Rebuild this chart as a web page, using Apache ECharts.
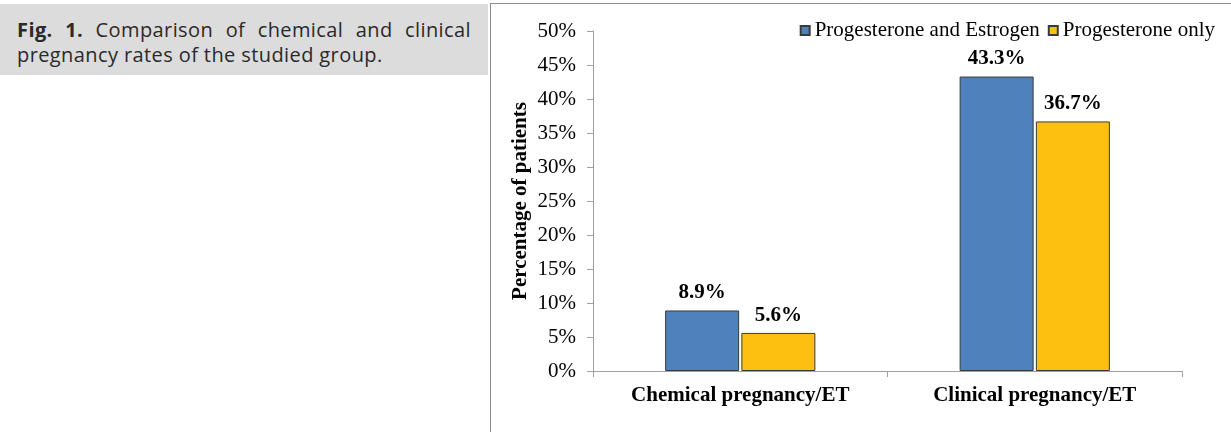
<!DOCTYPE html>
<html>
<head>
<meta charset="utf-8">
<script src="https://cdn.jsdelivr.net/npm/echarts@6/dist/echarts.min.js"></script>
<style>
    html, body { margin: 0; padding: 0; background: #fff; }
    #wrap { position: relative; width: 1231px; height: 432px; }
    #chart { position: absolute; left: 0; top: 0; width: 1231px; height: 432px; }
    #caption {
        position: absolute; left: 0; top: 4px; width: 454px;
        background: #dcdcdc; padding: 13px 17px 0 17px; height: 58px;
        font-family: "Open Sans", sans-serif; font-size: 20px; line-height: 25px;
        letter-spacing: 0.4px; color: #2a2a2a; text-align: justify;
    }
</style>
</head>
<body>
<div id="wrap">
    <div id="chart"></div>
    <div id="caption"><b>Fig. 1.</b> Comparison of chemical and clinical pregnancy rates of the studied group.</div>
</div>
<script>
var categories = ['Chemical pregnancy/ET', 'Clinical pregnancy/ET'];
var seriesNames = ['Progesterone and Estrogen', 'Progesterone only'];
var bothValues = [8.9, 43.3];
var progOnlyValues = [5.6, 36.7];

var chartMgr = {

    initChart: function () {
        var myChart = echarts.init(document.getElementById('chart'));
        var serif = 'Liberation Serif';

        var option = {
            animation: false,
            textStyle: { fontFamily: serif },
            legend: {
                right: 16,
                top: 20,
                padding: 0,
                itemWidth: 9,
                itemHeight: 9,
                itemGap: 8,
                icon: 'rect',
                textStyle: { fontFamily: serif, fontSize: 21, color: '#000' },
                data: seriesNames
            },
            grid: {
                left: 593,
                right: 49,
                top: 31,
                bottom: 61
            },
            xAxis: {
                type: 'category',
                data: categories,
                axisLine: { lineStyle: { color: '#a0a0a0', width: 1 } },
                axisTick: { show: true, length: 6, lineStyle: { color: '#a0a0a0' } },
                axisLabel: {
                    margin: 14,
                    fontFamily: serif,
                    fontSize: 21,
                    fontWeight: 'bold',
                    color: '#000'
                }
            },
            yAxis: {
                type: 'value',
                min: 0,
                max: 50,
                interval: 5,
                name: 'Percentage of patients',
                nameLocation: 'middle',
                nameGap: 62,
                nameTextStyle: { fontFamily: serif, fontSize: 21, fontWeight: 'bold', color: '#000' },
                axisLine: { show: true, lineStyle: { color: '#a0a0a0' } },
                axisTick: { show: true, length: 6, lineStyle: { color: '#a0a0a0' } },
                splitLine: { show: false },
                axisLabel: {
                    margin: 17,
                    fontFamily: serif,
                    fontSize: 21,
                    color: '#000',
                    formatter: '{value}%'
                }
            },
            series: [
                {
                    name: seriesNames[0],
                    type: 'bar',
                    barWidth: 74,
                    barGap: '3%',
                    data: bothValues,
                    itemStyle: { color: '#4f81bd', borderColor: '#3a3a3a', borderWidth: 1 },
                    label: {
                        show: true,
                        position: 'top',
                        distance: 7,
                        formatter: '{c}%',
                        fontFamily: serif,
                        fontSize: 21,
                        fontWeight: 'bold',
                        color: '#000'
                    }
                },
                {
                    name: seriesNames[1],
                    type: 'bar',
                    barWidth: 74,
                    data: progOnlyValues,
                    itemStyle: { color: '#fdc010', borderColor: '#3a3a3a', borderWidth: 1 },
                    label: {
                        show: true,
                        position: 'top',
                        distance: 7,
                        formatter: '{c}%',
                        fontFamily: serif,
                        fontSize: 21,
                        fontWeight: 'bold',
                        color: '#000'
                    }
                }
            ],
            graphic: [
                // figure frame: top and left border
                { type: 'line', shape: { x1: 490, y1: 3.5, x2: 1231, y2: 3.5 }, style: { stroke: '#8c8c8c', lineWidth: 1 } },
                { type: 'line', shape: { x1: 490.5, y1: 3, x2: 490.5, y2: 432 }, style: { stroke: '#8c8c8c', lineWidth: 1 } }
            ]
        };

        myChart.setOption(option);
    }
};

chartMgr.initChart();
</script>
</body>
</html>
